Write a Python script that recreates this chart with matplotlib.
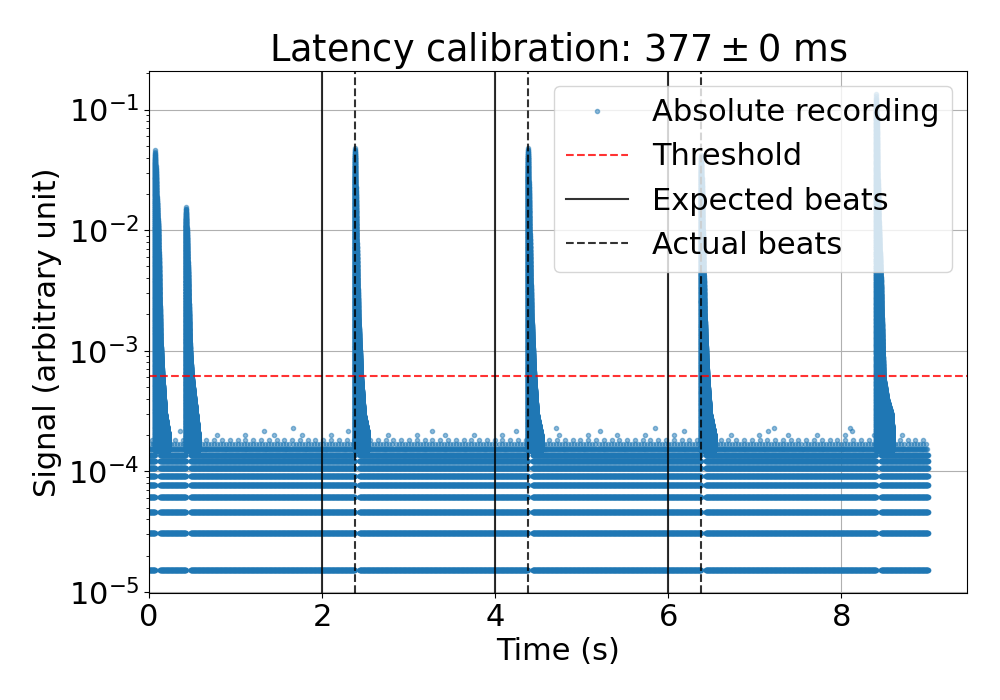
import numpy as np
import matplotlib
matplotlib.use("Agg")
import matplotlib.pyplot as plt

# ---------------- data ----------------
title_text = r"Latency calibration: $377 \pm 0$ ms"
duration = 9.0            # recording length (s)
threshold = 6.2e-4        # detection threshold
expected_beats = [2.0, 4.0, 6.0]
actual_beats = [2.377, 4.377, 6.377]

# quantised noise-floor levels and how often a sample sits on each level (s between samples)
noise_levels = [1.53e-5, 3.05e-5, 4.58e-5, 6.10e-5, 7.63e-5, 9.16e-5,
                1.07e-4, 1.22e-4, 1.37e-4, 1.53e-4, 1.68e-4, 1.83e-4, 1.98e-4, 2.14e-4]
noise_spacing = [0.002, 0.002, 0.002, 0.002, 0.002, 0.002,
                 0.002, 0.002, 0.003, 0.011, 0.035, 0.09, 0.33, 0.97]
rare_times = [1.66, 4.7, 5.85, 7.22, 8.1]     # isolated highest noise samples
rare_values = [2.29e-4, 2.29e-4, 2.29e-4, 2.29e-4, 2.29e-4]

# onsets of the six clicks and their decay envelopes (offset s, amplitude)
click_onsets = [0.07, 0.425, 2.375, 4.375, 6.375, 8.40]
click_offsets = [
    [0, 0.005, 0.015, 0.035, 0.06, 0.08, 0.11, 0.15],
    [0, 0.01, 0.025, 0.045, 0.065, 0.105, 0.14],
    [0, 0.005, 0.02, 0.04, 0.07, 0.10, 0.15],
    [0, 0.005, 0.02, 0.04, 0.07, 0.10, 0.15],
    [0, 0.005, 0.02, 0.04, 0.07, 0.10, 0.15],
    [0, 0.005, 0.015, 0.03, 0.05, 0.08, 0.12, 0.17, 0.19],
]
click_values = [
    [0.046, 0.036, 0.02, 0.01, 0.0012, 0.0006, 0.0003, 0.0002],
    [0.0155, 0.01, 0.004, 0.001, 0.0006, 0.00034, 0.0002],
    [0.048, 0.04, 0.01, 0.002, 0.0006, 0.0003, 0.0002],
    [0.048, 0.04, 0.01, 0.002, 0.0006, 0.0003, 0.0002],
    [0.042, 0.035, 0.01, 0.002, 0.0006, 0.0003, 0.0002],
    [0.135, 0.09, 0.03, 0.01, 0.0044, 0.0006, 0.0004, 0.0003, 0.00018],
]
click_floor = 1.5e-4      # lowest amplitude inside a click
click_gap = 0.055         # span after onset with no low-level samples

# ---------------- build the sample cloud ----------------
sample_t = []
sample_v = []
for lvl, sp in zip(noise_levels, noise_spacing):
    t = np.arange(sp * 0.37, duration, sp)
    if lvl < 1.45e-4:
        keep = np.ones(t.size, bool)
        for on in click_onsets:
            keep &= ~((t > on) & (t < on + click_gap))
        t = t[keep]
    sample_t.append(t)
    sample_v.append(np.full(t.size, lvl))
sample_t.append(np.array(rare_times))
sample_v.append(np.array(rare_values))

fracs = np.linspace(0, 1, 150)
for on, offs, vals in zip(click_onsets, click_offsets, click_values):
    tt = np.arange(0, offs[-1], 0.001)
    env = np.interp(tt, offs, np.log10(vals))
    lo = np.log10(click_floor)
    vv = 10 ** (lo + np.outer(env - lo, fracs))
    sample_t.append(np.repeat(on + tt, fracs.size))
    sample_v.append(vv.ravel())

sample_t = np.concatenate(sample_t)
sample_v = np.concatenate(sample_v)

# ---------------- plot ----------------
plt.rcParams['font.size'] = 22
fig, ax = plt.subplots(figsize=(10, 7), dpi=100)
fig.subplots_adjust(left=0.149, right=0.967, bottom=0.153, top=0.899)

ax.plot(sample_t, sample_v, '.', color='C0', alpha=0.5, label='Absolute recording')
ax.axhline(threshold, color='red', linestyle='--', alpha=0.8, label='Threshold')
for i, x in enumerate(expected_beats):
    ax.axvline(x, color='black', linestyle='-', alpha=0.8,
               label='Expected beats' if i == 0 else None)
for i, x in enumerate(actual_beats):
    ax.axvline(x, color='black', linestyle='--', alpha=0.8,
               label='Actual beats' if i == 0 else None)

ax.set_yscale('log')
ax.set_xlim(0, 9.45)
ax.set_ylim(9.8e-6, 0.21)
ax.grid(True)
ax.set_xlabel('Time (s)')
ax.set_ylabel('Signal (arbitrary unit)')
ax.set_title(title_text)
ax.legend(loc='upper right')

fig.savefig('out.png', dpi=100)
